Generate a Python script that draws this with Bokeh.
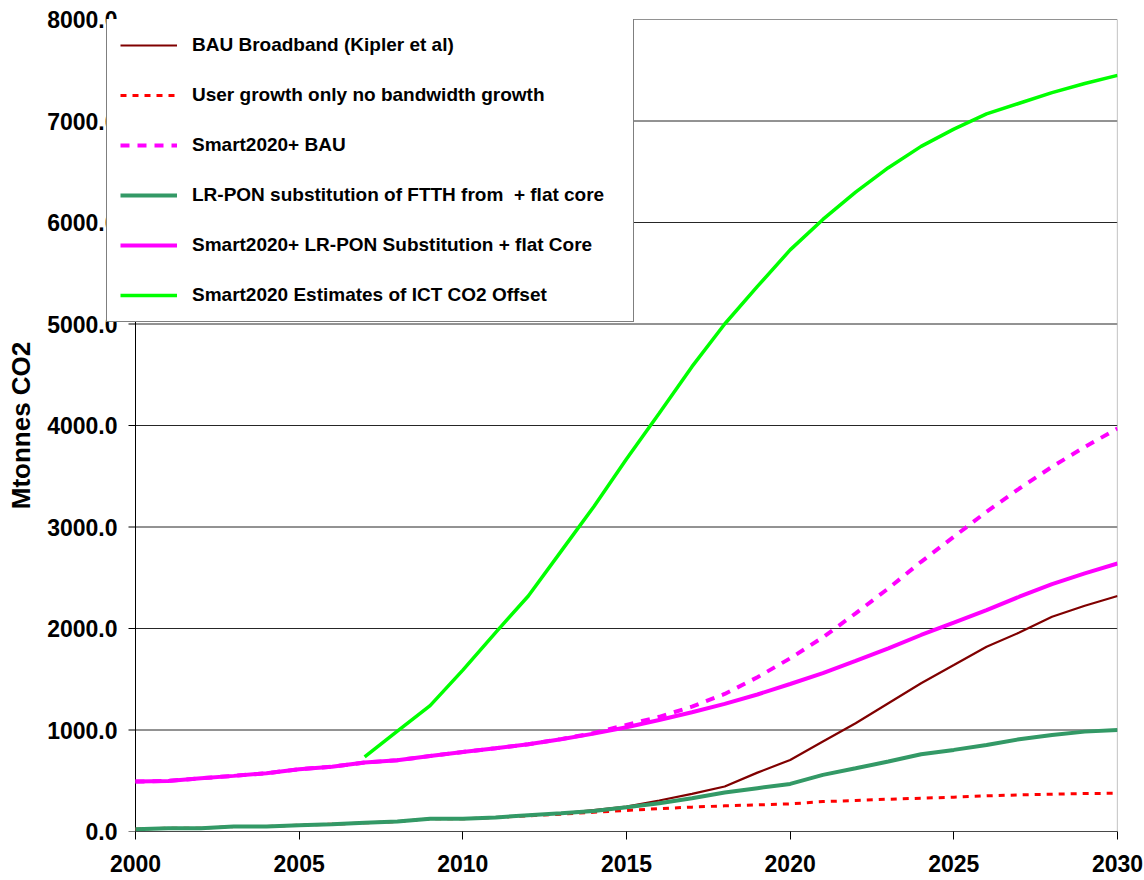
from bokeh.plotting import figure
from bokeh.models import Legend, LegendItem, Range1d, FixedTicker, PrintfTickFormatter
from bokeh.embed import file_html
from bokeh.resources import INLINE

# ---------------- data ----------------
years = list(range(2000, 2031))
ict_years = list(range(2007, 2031))

bau_broadband = [23, 33, 33, 49, 49, 62, 72, 85, 98, 125, 125, 138, 161, 180, 210,
                 246, 305, 370, 443, 580, 705, 886, 1066, 1263, 1460, 1640, 1821, 1960,
                 2116, 2224, 2320]
user_growth = [23, 33, 33, 49, 49, 62, 72, 85, 98, 125, 125, 138, 155, 170, 190,
               207, 226, 240, 253, 262, 272, 295, 305, 318, 328, 338, 351, 361,
               367, 374, 377]
smart_bau = [492, 498, 525, 548, 574, 613, 639, 679, 702, 744, 784, 820, 859, 910, 970,
             1050, 1130, 1230, 1355, 1520, 1706, 1913, 2149, 2395, 2657, 2904, 3150,
             3379, 3593, 3789, 3970]
lr_pon = [23, 33, 33, 49, 49, 62, 72, 85, 98, 125, 125, 138, 161, 180, 203,
          240, 279, 328, 384, 427, 469, 558, 623, 689, 761, 804, 853, 909, 951, 984, 1001]
smart_lr_pon = [492, 498, 525, 548, 574, 613, 639, 679, 702, 744, 784, 820, 859, 908, 964,
                1027, 1099, 1175, 1257, 1350, 1453, 1560, 1680, 1804, 1936, 2057, 2182,
                2313, 2438, 2543, 2641]
ict_offset = [735, 990, 1240, 1590, 1960, 2320, 2760, 3200, 3670, 4120, 4580, 5000,
              5370, 5730, 6030, 6300, 6540, 6750, 6920, 7070, 7175, 7280, 7370, 7450]

series_labels = [
    "BAU Broadband (Kipler et al)",
    "User growth only no bandwidth growth",
    "Smart2020+ BAU",
    "LR-PON substitution of FTTH from  + flat core",
    "Smart2020+ LR-PON Substitution + flat Core",
    "Smart2020 Estimates of ICT CO2 Offset",
]
x_ticks = [2000, 2005, 2010, 2015, 2020, 2025, 2030]
y_ticks = [0, 1000, 2000, 3000, 4000, 5000, 6000, 7000, 8000]
y_title = "Mtonnes CO2"

FONT = "Liberation Sans"

# ---------------- layout ----------------
W, H = 1144, 880
FRAME_L, FRAME_R, FRAME_T, FRAME_B = 105, 1117, 19, 831
AXIS_PX = 135          # pixel position of the value axis (x = 2000)
X0, X1 = x_ticks[0], x_ticks[-1]
px_per_year = (FRAME_R - AXIS_PX) / (X1 - X0)
x_start = X0 - (AXIS_PX - FRAME_L) / px_per_year
Y0, Y1 = y_ticks[0], y_ticks[-1]

p = figure(width=W, height=H, output_backend="svg", toolbar_location=None,
           x_range=Range1d(x_start, X1), y_range=Range1d(Y0, Y1),
           min_border_left=FRAME_L, min_border_right=W - FRAME_R,
           min_border_top=FRAME_T, min_border_bottom=H - FRAME_B)

p.background_fill_color = "white"
p.border_fill_color = "white"
p.outline_line_color = None
p.xgrid.visible = False
p.ygrid.visible = False

# x axis (ticks + labels only; line drawn below)
p.xaxis.ticker = FixedTicker(ticks=x_ticks)
p.xaxis.formatter = PrintfTickFormatter(format="%d")
p.xaxis.axis_line_color = None
p.xaxis.major_tick_line_color = "black"
p.xaxis.major_tick_in = 0
p.xaxis.major_tick_out = 8
p.xaxis.minor_tick_line_color = None
p.xaxis.major_label_standoff = 15

# y axis: labels only (line and ticks drawn at x = 2000)
p.yaxis.ticker = FixedTicker(ticks=y_ticks)
p.yaxis.formatter = PrintfTickFormatter(format="%.1f")
p.yaxis.axis_line_color = None
p.yaxis.major_tick_line_color = None
p.yaxis.minor_tick_line_color = None
p.yaxis.major_tick_in = 0
p.yaxis.major_tick_out = 0
p.yaxis.major_label_standoff = -(AXIS_PX - FRAME_L) + 18

for ax in (p.xaxis[0], p.yaxis[0]):
    ax.major_label_text_font = FONT
    ax.major_label_text_font_style = "bold"
    ax.major_label_text_font_size = "23px"
    ax.major_label_text_color = "black"

p.yaxis.axis_label = y_title
p.yaxis.axis_label_text_font = FONT
p.yaxis.axis_label_text_font_style = "bold"
p.yaxis.axis_label_text_font_size = "26px"
p.yaxis.axis_label_text_color = "black"
p.yaxis.axis_label_standoff = 8

# horizontal gridlines from the value axis to the right edge
n = len(y_ticks)
p.segment(x0=[X0] * n, y0=y_ticks, x1=[X1] * n, y1=y_ticks,
          line_color="black", line_alpha=0.85, line_width=1)
# right border of plot area
p.segment(x0=[X1], y0=[Y0], x1=[X1], y1=[Y1], line_color="#9a9a9a", line_width=1.2)
# value axis line, category axis line and value-axis tick marks
tick_len = 7 / px_per_year
p.segment(x0=[X0], y0=[Y0], x1=[X0], y1=[Y1], line_color="black", line_width=1)
p.segment(x0=[X0], y0=[Y0], x1=[X1], y1=[Y0], line_color="black", line_width=1)
p.segment(x0=[X0 - tick_len] * n, y0=y_ticks, x1=[X0] * n, y1=y_ticks,
          line_color="black", line_width=1)

# ---------------- series ----------------
r_sbau = p.line(years, smart_bau, line_color="#ff00ff", line_width=4, line_dash="9 8")
r_user = p.line(years, user_growth, line_color="#ff0000", line_width=3, line_dash="6 6")
r_bau = p.line(years, bau_broadband, line_color="#800000", line_width=2.2)
r_lr = p.line(years, lr_pon, line_color="#339966", line_width=4)
r_slr = p.line(years, smart_lr_pon, line_color="#ff00ff", line_width=4)
r_ict = p.line(ict_years, ict_offset, line_color="#00ff00", line_width=3.5)

renderers = [r_bau, r_user, r_sbau, r_lr, r_slr, r_ict]
items = [LegendItem(label=lab, renderers=[r]) for lab, r in zip(series_labels, renderers)]

frame_h = FRAME_B - FRAME_T
legend_h = 302
legend = Legend(items=items, location=(1, frame_h - legend_h - 1), padding=13, spacing=24,
                label_height=26, glyph_height=26, glyph_width=57, label_standoff=15,
                label_width=428, margin=0,
                label_text_font=FONT, label_text_font_style="bold",
                label_text_font_size="19px", label_text_color="black",
                border_line_color="black", border_line_width=1.2,
                background_fill_color="white", background_fill_alpha=1.0)
p.add_layout(legend)

open("out.html", "w").write(file_html(p, INLINE))
